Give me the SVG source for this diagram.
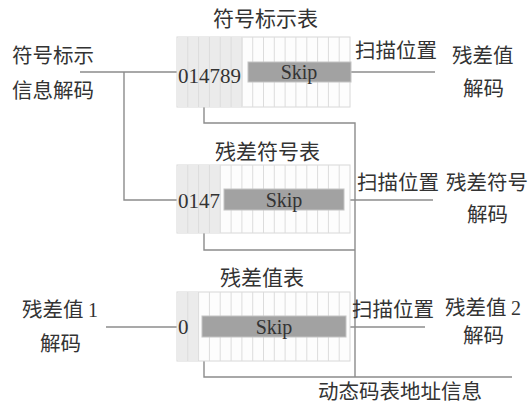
<svg xmlns="http://www.w3.org/2000/svg" width="529" height="406" viewBox="0 0 529 406">
<style>
.cjk{font-family:"Noto Sans CJK SC","Noto Sans",sans-serif;fill:#333;font-size:20.5px}
.title{font-size:21px}
.num{font-family:"Liberation Serif",serif;fill:#333;font-size:21px}
.skip{font-family:"Liberation Serif",serif;fill:#333;font-size:20px;text-anchor:middle}
.frame{fill:#fdfdfd;stroke:#d8d8d8;stroke-width:1}
.shade{fill:#ebebeb}
.col{stroke:#dcdcdc;stroke-width:1}
.bar{fill:#a2a2a2;stroke:#c4c4c4;stroke-width:1}
.conn{fill:none;stroke:#8c8c8c;stroke-width:1.4}
</style>
<defs>
<g id="cols">
<path class="col" d="M187.8 0V1M198.6 0V1M209.4 0V1M220.2 0V1M231.1 0V1M241.9 0V1M252.7 0V1M263.5 0V1M274.3 0V1M285.1 0V1M295.9 0V1M306.8 0V1M317.6 0V1M328.4 0V1M339.2 0V1"/>
</g>
</defs>
<g id="connectors">
<path class="conn" d="M80 72H177M124 72V200H177"/>
<path class="conn" d="M350 72H435"/>
<path class="conn" d="M350 200H433"/>
<path class="conn" d="M106 327H177"/>
<path class="conn" d="M350 327H425"/>
<path class="conn" d="M204 107V123H355V377"/>
<path class="conn" d="M204 233V250H355"/>
<path class="conn" d="M204 361V377H512"/>
</g>
<g id="table1">
<text class="cjk title" x="213" y="26">符号标示表</text>
<rect class="frame" x="177" y="37" width="173" height="70"/>
<rect class="shade" x="177.5" y="37.5" width="65.4" height="69"/>
<use href="#cols" transform="translate(0,37) scale(1,70)"/>
<rect class="bar" x="248" y="62" width="103" height="20"/>
<text class="num" x="178" y="83">014789</text>
<text class="skip" x="299" y="79">Skip</text>
</g>
<g id="table2">
<text class="cjk title" x="215" y="159">残差符号表</text>
<rect class="frame" x="177" y="165" width="173" height="68"/>
<rect class="shade" x="177.5" y="165.5" width="43.2" height="67"/>
<use href="#cols" transform="translate(0,165) scale(1,68)"/>
<rect class="bar" x="224" y="189" width="120" height="21"/>
<text class="num" x="178" y="208">0147</text>
<text class="skip" x="284" y="207">Skip</text>
</g>
<g id="table3">
<text class="cjk title" x="220" y="285">残差值表</text>
<rect class="frame" x="177" y="292" width="173" height="69"/>
<rect class="shade" x="177.5" y="292.5" width="21.1" height="68"/>
<use href="#cols" transform="translate(0,292) scale(1,69)"/>
<rect class="bar" x="202" y="316" width="144" height="21"/>
<text class="num" x="178" y="334">0</text>
<text class="skip" x="274" y="334">Skip</text>
</g>
<g id="label-symbol-info">
<text class="cjk" x="12" y="63">符号标示</text>
<text class="cjk" x="12" y="98">信息解码</text>
</g>
<g id="label-scan1">
<text class="cjk" x="355" y="58">扫描位置</text>
</g>
<g id="label-residual-value">
<text class="cjk" x="452" y="63">残差值</text>
<text class="cjk" x="463" y="96">解码</text>
</g>
<g id="label-scan2">
<text class="cjk" x="357" y="190">扫描位置</text>
</g>
<g id="label-residual-sign">
<text class="cjk" x="446" y="190">残差符号</text>
<text class="cjk" x="467" y="222">解码</text>
</g>
<g id="label-residual1">
<text class="cjk" x="22" y="317">残差值 <tspan class="num" style="font-size:20px">1</tspan></text>
<text class="cjk" x="40" y="351">解码</text>
</g>
<g id="label-scan3">
<text class="cjk" x="352" y="317">扫描位置</text>
</g>
<g id="label-residual2">
<text class="cjk" x="445" y="315">残差值 <tspan class="num" style="font-size:20px">2</tspan></text>
<text class="cjk" x="463" y="343">解码</text>
</g>
<g id="label-address">
<text class="cjk" x="318" y="399">动态码表地址信息</text>
</g>
</svg>
